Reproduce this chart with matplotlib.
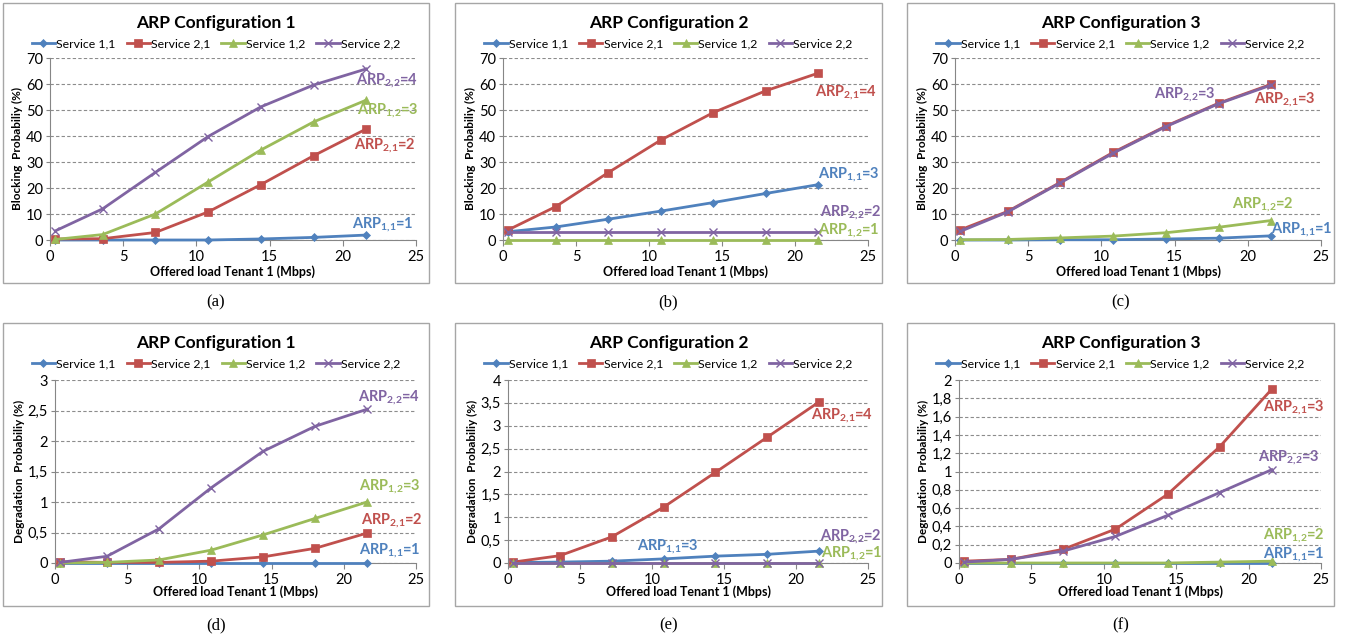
import matplotlib
matplotlib.use('Agg')
import matplotlib.pyplot as plt
from matplotlib.patches import Rectangle
from matplotlib.ticker import FuncFormatter, MultipleLocator

plt.rcParams['font.family'] = ['Lato', 'DejaVu Sans']
plt.rcParams['mathtext.fontset'] = 'custom'
plt.rcParams['mathtext.rm'] = 'Lato:bold'
plt.rcParams['mathtext.default'] = 'rm'

# Offered load (Mbps)
load = [0.36, 3.6, 7.2, 10.8, 14.4, 18.0, 21.6]
services = ['Service 1,1', 'Service 2,1', 'Service 1,2', 'Service 2,2']
colors = ['#4F81BD', '#C0504D', '#9BBB59', '#8064A2']
markers = ['D', 's', '^', 'x']
msizes = [4, 6, 6, 6]

# Blocking probability (%)
block_cfg1 = [
    [0, 0, 0, 0, 0.4, 1.0, 1.9],
    [0.4, 0.5, 2.9, 10.8, 21.3, 32.4, 42.7],
    [0.2, 2.1, 10.0, 22.3, 34.6, 45.4, 53.8],
    [3.5, 12.0, 26.0, 39.8, 51.2, 59.6, 65.8],
]
block_cfg2 = [
    [3.2, 5.0, 8.0, 11.1, 14.4, 17.9, 21.3],
    [3.9, 12.8, 25.9, 38.4, 49.0, 57.4, 64.2],
    [0, 0, 0, 0, 0, 0, 0],
    [3.0, 3.0, 3.0, 3.0, 3.0, 3.0, 3.0],
]
block_cfg3 = [
    [0, 0, 0.1, 0.1, 0.4, 0.7, 1.6],
    [3.9, 11.0, 22.2, 33.7, 43.8, 52.6, 59.9],
    [0.1, 0.2, 0.8, 1.5, 2.8, 4.9, 7.5],
    [3.3, 10.8, 22.0, 33.4, 43.6, 52.4, 59.6],
]
# Degradation probability (%)
degr_cfg1 = [
    [0, 0, 0, 0, 0, 0, 0],
    [0.02, 0.01, 0.01, 0.03, 0.1, 0.24, 0.49],
    [0, 0.01, 0.05, 0.21, 0.46, 0.73, 1.0],
    [0.01, 0.11, 0.56, 1.23, 1.83, 2.24, 2.52],
]
degr_cfg2 = [
    [0.01, 0.02, 0.04, 0.09, 0.15, 0.19, 0.26],
    [0.02, 0.16, 0.57, 1.22, 1.98, 2.75, 3.52],
    [0, 0, 0, 0, 0, 0, 0],
    [0, 0, 0, 0, 0, 0, 0],
]
degr_cfg3 = [
    [0, 0, 0, 0, 0, 0, 0],
    [0.02, 0.04, 0.15, 0.37, 0.75, 1.27, 1.9],
    [0, 0, 0, 0, 0, 0.01, 0.02],
    [0.01, 0.04, 0.13, 0.29, 0.52, 0.77, 1.02],
]

# ARP labels: (text, series index, x, y)
labels_a = [('ARP$_{2{,}2}$=4', 3, 23.0, 61), ('ARP$_{1{,}2}$=3', 2, 23.1, 49.5),
            ('ARP$_{2{,}1}$=2', 1, 22.9, 36.2), ('ARP$_{1{,}1}$=1', 0, 22.7, 5.9)]
labels_b = [('ARP$_{2{,}1}$=4', 1, 23.5, 56.5), ('ARP$_{1{,}1}$=3', 0, 23.7, 25),
            ('ARP$_{2{,}2}$=2', 3, 23.8, 10.3), ('ARP$_{1{,}2}$=1', 2, 23.7, 3.6)]
labels_c = [('ARP$_{2{,}2}$=3', 3, 15.7, 55.7), ('ARP$_{2{,}1}$=3', 1, 22.5, 53.7),
            ('ARP$_{1{,}2}$=2', 2, 21.0, 13.3), ('ARP$_{1{,}1}$=1', 0, 23.7, 3.9)]
labels_d = [('ARP$_{2{,}2}$=4', 3, 23.1, 2.71), ('ARP$_{1{,}2}$=3', 2, 23.2, 1.25),
            ('ARP$_{2{,}1}$=2', 1, 23.3, 0.69), ('ARP$_{1{,}1}$=1', 0, 23.2, 0.2)]
labels_e = [('ARP$_{2{,}1}$=4', 1, 23.2, 3.22), ('ARP$_{1{,}1}$=3', 0, 11.1, 0.34),
            ('ARP$_{2{,}2}$=2', 3, 23.8, 0.57), ('ARP$_{1{,}2}$=1', 2, 23.9, 0.2)]
labels_f = [('ARP$_{2{,}1}$=3', 1, 23.1, 1.69), ('ARP$_{2{,}2}$=3', 3, 22.8, 1.15),
            ('ARP$_{1{,}2}$=2', 2, 23.1, 0.30), ('ARP$_{1{,}1}$=1', 0, 23.1, 0.09)]

W, H = 1354, 641
fig = plt.figure(figsize=(W / 100, H / 100), dpi=100)

panels = [
    # data, labels, title, ylabel, ymax, ystep, caption, axes box px (x0, x1, top, bottom), chart box px (x0, x1, y0, y1)
    (block_cfg1, labels_a, 'ARP Configuration 1', 'Blocking  Probabiliy (%)', 70, 10, '(a)', (50, 416, 58, 240), (3, 429, 3, 283)),
    (block_cfg2, labels_b, 'ARP Configuration 2', 'Blocking  Probabiliy (%)', 70, 10, '(b)', (503, 868, 58, 240), (455, 882, 3, 283)),
    (block_cfg3, labels_c, 'ARP Configuration 3', 'Blocking  Probabiliy (%)', 70, 10, '(c)', (955, 1321, 58, 240), (907, 1334, 3, 283)),
    (degr_cfg1, labels_d, 'ARP Configuration 1', 'Degradation  Probabiliy (%)', 3, 0.5, '(d)', (55, 416, 380, 563), (3, 429, 323, 606)),
    (degr_cfg2, labels_e, 'ARP Configuration 2', 'Degradation  Probabiliy (%)', 4, 0.5, '(e)', (508, 868, 380, 563), (455, 882, 323, 606)),
    (degr_cfg3, labels_f, 'ARP Configuration 3', 'Degradation  Probabiliy (%)', 2, 0.2, '(f)', (959, 1321, 380, 563), (907, 1334, 323, 606)),
]

comma = FuncFormatter(lambda v, p: ('%g' % round(v, 2)).replace('.', ','))

for data, labs, title, ylab, ymax, ystep, cap, (ax0, ax1, at, ab), (bx0, bx1, by0, by1) in panels:
    # gray chart border
    fig.patches.append(Rectangle((bx0 / W, 1 - by1 / H), (bx1 - bx0) / W, (by1 - by0) / H,
                                 transform=fig.transFigure, fill=False, edgecolor='#A6A6A6', lw=1))
    ax = fig.add_axes([ax0 / W, 1 - ab / H, (ax1 - ax0) / W, (ab - at) / H])
    for i in range(4):
        ax.plot(load, data[i], color=colors[i], marker=markers[i], ms=msizes[i],
                lw=2, mew=1 if markers[i] == 'x' else 0.5, label=services[i], clip_on=False, zorder=3 + i)
    ax.set_xlim(0, 25)
    ax.set_ylim(0, ymax)
    ax.xaxis.set_major_locator(MultipleLocator(5))
    ax.yaxis.set_major_locator(MultipleLocator(ystep))
    ax.yaxis.set_major_formatter(comma)
    ax.grid(axis='y', ls=(0, (3, 2)), color='#8C8C8C', lw=0.8)
    ax.set_axisbelow(True)
    for s in ['top', 'right']:
        ax.spines[s].set_visible(False)
    for s in ['left', 'bottom']:
        ax.spines[s].set_color('#868686')
    ax.tick_params(colors='#868686', labelcolor='black', labelsize=10.5, length=4, width=0.8, pad=3)
    ax.tick_params(axis='y', length=3, pad=2)
    ax.set_ylabel(ylab, fontsize=8.5, fontweight='bold', labelpad=2)
    cx = (bx0 + bx1) / 2 / W
    fig.text(cx, 1 - (by0 + 20) / H, title, ha='center', va='center', fontsize=12.5, fontweight='bold')
    fig.text((ax0 + ax1) / 2 / W, 1 - (by0 + 269) / H, 'Offered load Tenant 1 (Mbps)', ha='center', va='center',
             fontsize=9, fontweight='bold')
    fig.text(cx, 1 - (by1 + 19) / H, cap, ha='center', va='center', fontsize=12, family='Liberation Serif')
    ax.legend(loc='center', bbox_to_anchor=((cx * W - ax0) / (ax1 - ax0), (ab - (by0 + 41)) / (ab - at)),
              ncol=4, frameon=False, fontsize=8.8, handlelength=1.9, columnspacing=0.9, handletextpad=0.1,
              borderaxespad=0, borderpad=0)
    for text, k, x, y in labs:
        ax.text(x, y, text, color=colors[k], ha='center', va='center', fontsize=10.5, fontweight='bold', zorder=10)

fig.savefig('out.png', dpi=100)
